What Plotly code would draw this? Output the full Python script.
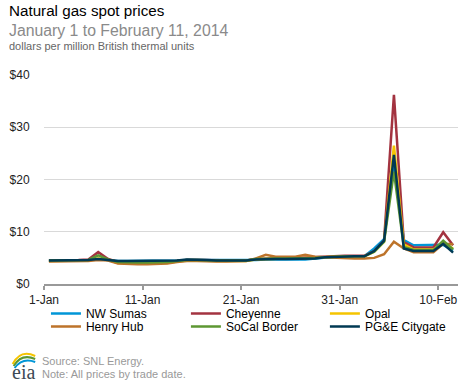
import plotly.graph_objects as go
import pandas as pd

# ---- data ----
dates = [d.strftime("%Y-%m-%d 12:00") for d in pd.date_range("2014-01-01", "2014-02-11", freq="D")]

nw_sumas = [4.5, 4.5, 4.6, 4.6, 4.6, 4.8, 4.6, 4.4, 4.4, 4.4, 4.4, 4.4, 4.4, 4.5, 4.6, 4.6, 4.6,
            4.5, 4.5, 4.5, 4.5, 4.6, 4.7, 4.7, 4.7, 4.7, 4.7, 4.9, 5.1, 5.2, 5.3, 5.3, 5.3,
            6.8, 8.6, 23.5, 8.4, 7.4, 7.4, 7.4, 7.5, 6.4]
cheyenne = [4.5, 4.5, 4.6, 4.6, 4.7, 6.1, 4.8, 4.2, 4.1, 4.1, 4.1, 4.1, 4.2, 4.4, 4.6, 4.6, 4.6,
            4.5, 4.5, 4.5, 4.5, 4.8, 4.9, 5.0, 5.0, 5.0, 5.1, 5.1, 5.2, 5.3, 5.4, 5.4, 5.4,
            6.3, 8.3, 36.2, 8.0, 7.0, 7.0, 7.0, 9.9, 7.4]
opal = [4.4, 4.4, 4.5, 4.5, 4.5, 4.9, 4.6, 4.0, 3.9, 3.9, 3.9, 3.9, 4.0, 4.3, 4.5, 4.5, 4.4,
        4.4, 4.4, 4.4, 4.4, 4.7, 4.8, 4.9, 4.9, 4.9, 5.0, 5.0, 5.1, 5.2, 5.3, 5.3, 5.3,
        6.2, 8.1, 26.5, 7.6, 6.6, 6.6, 6.6, 7.9, 6.8]
henry_hub = [4.3, 4.3, 4.3, 4.3, 4.4, 4.6, 4.5, 3.9, 3.8, 3.8, 3.8, 3.8, 3.9, 4.2, 4.4, 4.4, 4.3,
             4.3, 4.3, 4.3, 4.4, 4.9, 5.6, 5.2, 5.2, 5.2, 5.6, 5.2, 5.1, 5.0, 4.9, 4.9, 4.9,
             5.0, 5.7, 8.1, 6.8, 6.1, 6.1, 6.1, 7.7, 7.6]
socal_border = [4.5, 4.5, 4.6, 4.6, 4.6, 5.5, 4.7, 4.2, 4.1, 4.1, 4.1, 4.1, 4.2, 4.4, 4.6, 4.6, 4.5,
                4.5, 4.5, 4.5, 4.5, 4.8, 4.9, 4.9, 4.9, 4.9, 5.0, 5.0, 5.1, 5.2, 5.3, 5.3, 5.3,
                6.2, 8.1, 21.5, 7.1, 6.5, 6.5, 6.5, 8.3, 6.6]
pge_citygate = [4.5, 4.5, 4.6, 4.6, 4.6, 4.8, 4.6, 4.4, 4.4, 4.4, 4.4, 4.4, 4.4, 4.5, 4.7, 4.7, 4.6,
                4.5, 4.5, 4.5, 4.5, 4.7, 4.8, 4.8, 4.8, 4.8, 4.9, 4.9, 5.1, 5.2, 5.3, 5.3, 5.3,
                6.3, 8.3, 24.7, 6.8, 6.3, 6.3, 6.3, 7.7, 6.0]

series_names = ["NW Sumas", "Cheyenne", "Opal", "Henry Hub", "SoCal Border", "PG&E Citygate"]
series_values = [nw_sumas, cheyenne, opal, henry_hub, socal_border, pge_citygate]
series_colors = ["#0096d7", "#a33340", "#f5c400", "#bd732a", "#5d9732", "#003953"]

x_tick_vals = ["2014-01-01", "2014-01-11", "2014-01-21", "2014-01-31", "2014-02-10"]
x_tick_text = ["1-Jan", "11-Jan", "21-Jan", "31-Jan", "10-Feb"]
y_tick_vals = [0, 10, 20, 30, 40]
y_tick_text = ["$0", "$10", "$20", "$30", "$40"]

# ---- geometry ----
W, H = 468, 382
ML, MR, MT, MB = 35, 10, 75, 98
PW, PH = W - ML - MR, H - MT - MB


def px(x):
    return (x - ML) / PW


def py(y):
    return (H - MB - y) / PH


FONT = "Arial, Liberation Sans, sans-serif"

# legend slots (3 columns x 2 rows), pixel positions of each entry box
leg_cols = [37, 180, 322]
leg_rows = [313.5, 326.5]

fig = go.Figure()
legend_layouts = {}
for i, (name, vals, col) in enumerate(zip(series_names, series_values, series_colors)):
    key = "legend" if i == 0 else f"legend{i + 1}"
    fig.add_trace(go.Scatter(x=dates, y=vals, mode="lines", name=name,
                             line=dict(color=col, width=2.5), legend=key,
                             hoverinfo="skip"))
    legend_layouts[key] = dict(
        x=px(leg_cols[i % 3]), y=py(leg_rows[i // 3]),
        orientation="h", xanchor="left", yanchor="middle",
        font=dict(family=FONT, size=12, color="#000"),
        bgcolor="rgba(0,0,0,0)", borderwidth=0,
        itemclick=False, itemdoubleclick=False)

fig.update_layout(
    width=W, height=H,
    margin=dict(l=ML, r=MR, t=MT, b=MB, pad=0),
    paper_bgcolor="white", plot_bgcolor="white",
    font=dict(family=FONT, size=12, color="#333"),
    showlegend=True,
    xaxis=dict(type="date", range=["2014-01-01", "2014-02-12"],
               tickvals=x_tick_vals, ticktext=x_tick_text,
               showgrid=False, zeroline=False,
               showline=True, linecolor="#999", linewidth=1.5,
               ticks="outside", ticklen=4, tickcolor="#999", tickwidth=1.5,
               tickfont=dict(family=FONT, size=12, color="#222")),
    yaxis=dict(range=[0, 40], tickvals=y_tick_vals, ticktext=y_tick_text,
               showgrid=True, gridcolor="#d9d9d9", gridwidth=1,
               zeroline=False, showline=False,
               ticks="outside", ticklen=11, tickcolor="rgba(0,0,0,0)",
               tickfont=dict(family=FONT, size=12, color="#222")),
    **legend_layouts,
)

annotations = [
    dict(text="Natural gas spot prices", x=px(-3), y=py(11), xanchor="left", yanchor="middle",
         font=dict(family=FONT, size=15.2, color="#000")),
    dict(text="January 1 to February 11, 2014", x=px(-3), y=py(30), xanchor="left", yanchor="middle",
         font=dict(family=FONT, size=15.8, color="#8a8a8a")),
    dict(text="dollars per million British thermal units", x=px(-3), y=py(46), xanchor="left",
         yanchor="middle", font=dict(family=FONT, size=11, color="#666")),
    dict(text="Source: SNL Energy.", x=px(31), y=py(361), xanchor="left", yanchor="middle",
         font=dict(family=FONT, size=11, color="#999")),
    dict(text="Note: All prices by trade date.", x=px(31), y=py(374), xanchor="left", yanchor="middle",
         font=dict(family=FONT, size=11, color="#999")),
    dict(text="eia", x=px(0), y=py(372), xanchor="left", yanchor="middle",
         font=dict(family="Liberation Serif, DejaVu Serif, serif", size=20, color="#3d4a55")),
]
for a in annotations:
    a.update(xref="paper", yref="paper", showarrow=False)
fig.update_layout(annotations=annotations)

# small logo swooshes
arcs = [((3, 364), (11, 349), (26, 356), "#f5c400"),
        ((4, 366), (12, 353), (26, 359), "#5d9732"),
        ((5, 368), (13, 357), (26, 362), "#0096d7")]
shapes = []
for (x0, y0), (cx, cy), (x1, y1), col in arcs:
    path = f"M {px(x0)},{py(y0)} Q {px(cx)},{py(cy)} {px(x1)},{py(y1)}"
    shapes.append(dict(type="path", path=path, xref="paper", yref="paper",
                       line=dict(color=col, width=2), layer="above"))
fig.update_layout(shapes=shapes)

fig.write_html("out.html", config={"displayModeBar": False},
               post_script="document.body.style.margin='0';document.body.style.padding='0';")
